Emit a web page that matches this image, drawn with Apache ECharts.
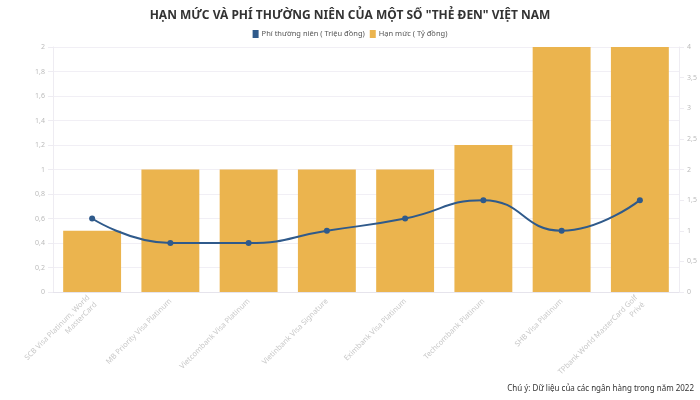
<!DOCTYPE html>
<html>
<head>
<meta charset="utf-8">
<script src="https://cdn.jsdelivr.net/npm/echarts@6/dist/echarts.min.js"></script>
<style>
  html, body { margin: 0; padding: 0; background: #fff; }
  #chart { width: 700px; height: 400px; }
</style>
</head>
<body>
<div id="chart"></div>
<script>
// categories and values
const banks = [
  'SCB Visa Platinum, World\nMasterCard',
  'MB Priority Visa Platinum',
  'Vietcombank Visa Platinum',
  'Vietinbank Visa Signature',
  'Eximbank Visa Platinum',
  'Techcombank Platinum',
  'SHB Visa Platinum',
  'TPbank World MasterCard Golf\nPrivé'
];
const hanMuc = [0.5, 1, 1, 1, 1, 1.2, 2, 2];          // Tỷ đồng
const phiThuongNien = [1.2, 0.8, 0.8, 1, 1.2, 1.5, 1, 1.5]; // Triệu đồng

const fmt = v => String(v).replace('.', ',');

const chart = echarts.init(document.getElementById('chart'));
chart.setOption({
  backgroundColor: '#ffffff',
  textStyle: { fontFamily: 'Noto Sans' },
  title: {
    text: 'HẠN MỨC VÀ PHÍ THƯỜNG NIÊN CỦA MỘT SỐ "THẺ ĐEN" VIỆT NAM',
    left: 'center',
    top: 5,
    textStyle: { fontSize: 12, fontWeight: 'bold', color: '#333' }
  },
  legend: {
    top: 25,
    left: 'center',
    itemWidth: 6,
    itemHeight: 8,
    itemGap: 5,
    icon: 'rect',
    textStyle: { fontSize: 7.5, color: '#555', padding: [0, 0, 0, -2] },
    data: ['Phí thường niên ( Triệu đồng)', 'Hạn mức ( Tỷ đồng)']
  },
  graphic: [{
    type: 'text',
    right: 6,
    bottom: 7,
    style: {
      text: 'Chú ý: Dữ liệu của các ngân hàng trong năm 2022',
      fill: '#333',
      fontSize: 8,
      fontFamily: 'Noto Sans'
    }
  }],
  grid: { left: 53, right: 21, top: 47, bottom: 108 },
  xAxis: {
    type: 'category',
    data: banks,
    axisLine: { lineStyle: { color: '#e6e4ec' } },
    axisTick: { alignWithLabel: true, lineStyle: { color: '#e6e4ec' } },
    axisLabel: {
      rotate: 45,
      interval: 0,
      fontSize: 7.5,
      color: '#c8c8c8',
      lineHeight: 10
    }
  },
  yAxis: [{
    type: 'value',
    min: 0,
    max: 2,
    interval: 0.2,
    axisLine: { show: true, lineStyle: { color: '#eeecf2' } },
    axisTick: { show: true, lineStyle: { color: '#eeecf2' } },
    splitLine: { lineStyle: { color: '#f1eff5' } },
    axisLabel: { fontSize: 7, color: '#bbb', formatter: fmt }
  }, {
    type: 'value',
    min: 0,
    max: 4,
    interval: 0.5,
    axisLine: { show: true, lineStyle: { color: '#eeecf2' } },
    axisTick: { show: true, lineStyle: { color: '#eeecf2' } },
    splitLine: { show: false },
    axisLabel: { fontSize: 7, color: '#bbb', formatter: fmt }
  }],
  series: [{
    name: 'Hạn mức ( Tỷ đồng)',
    type: 'bar',
    yAxisIndex: 0,
    data: hanMuc,
    barCategoryGap: '26%',
    itemStyle: { color: '#ebb44e' },
    z: 1
  }, {
    name: 'Phí thường niên ( Triệu đồng)',
    type: 'line',
    yAxisIndex: 1,
    data: phiThuongNien,
    smooth: true,
    symbol: 'circle',
    symbolSize: 6,
    lineStyle: { color: '#2f5a8b', width: 2 },
    itemStyle: { color: '#2f5a8b' },
    z: 3
  }]
});
</script>
</body>
</html>
